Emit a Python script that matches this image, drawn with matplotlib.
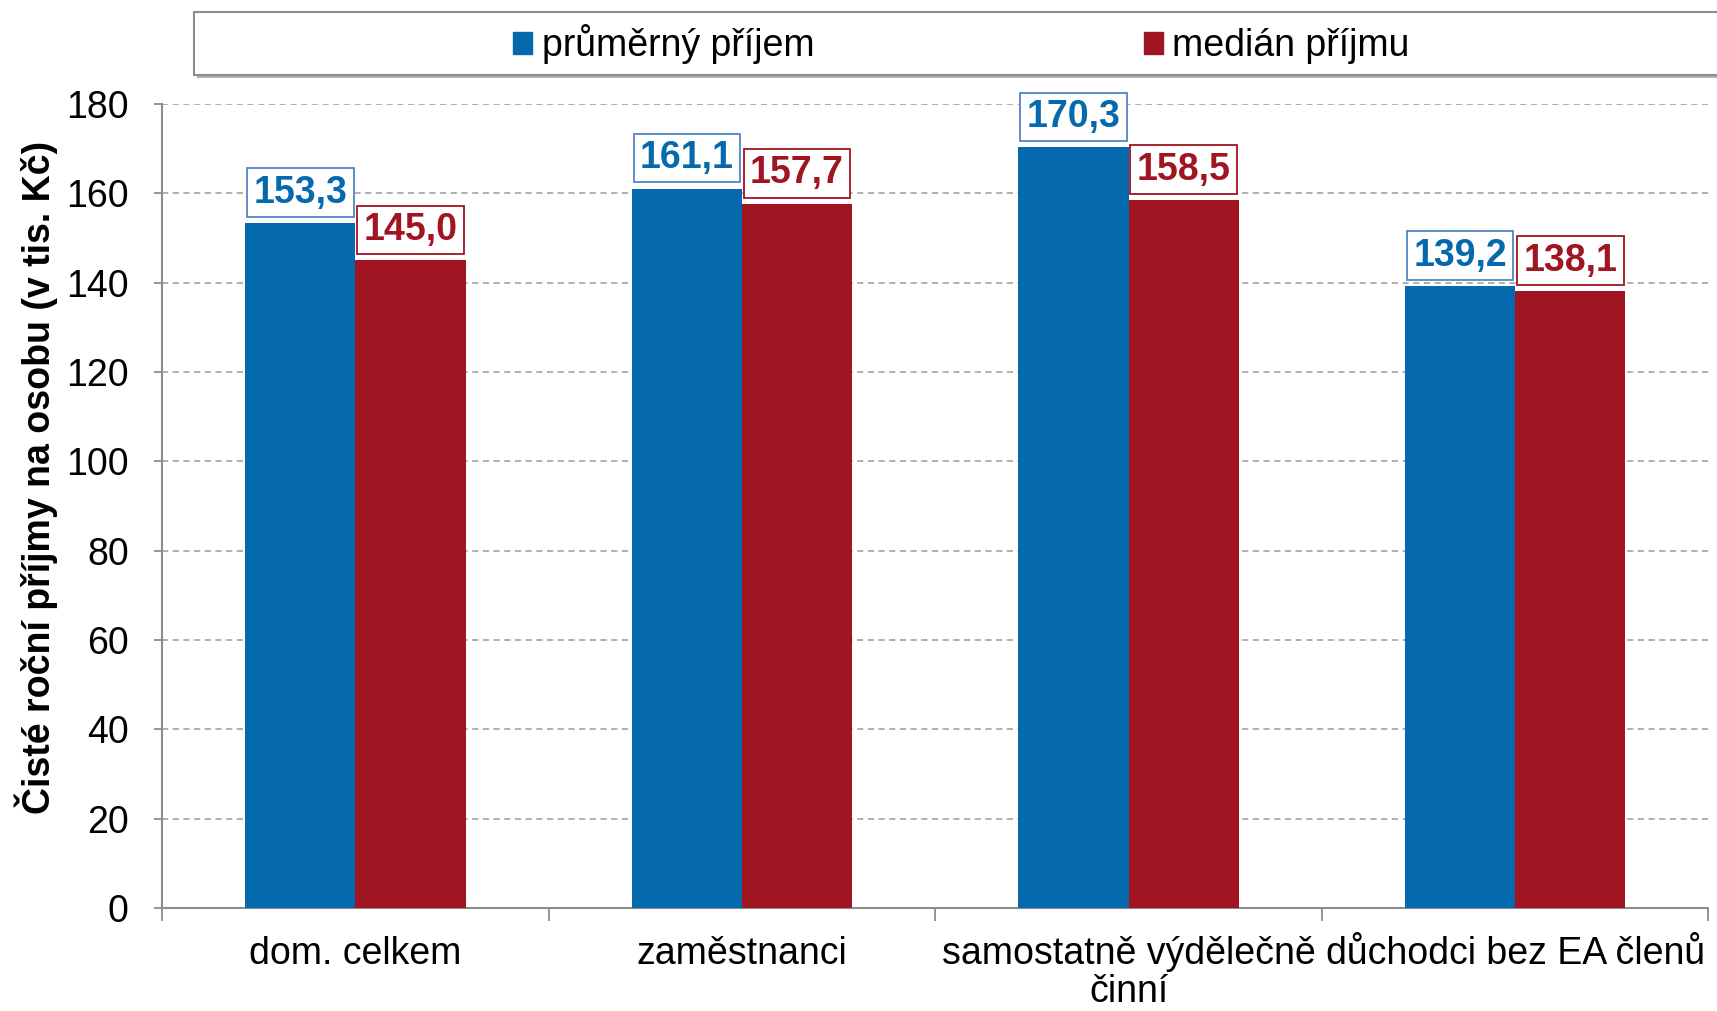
import matplotlib
matplotlib.use("Agg")
import matplotlib.pyplot as plt
from matplotlib.patches import Rectangle, Patch
import numpy as np

plt.rcParams["font.family"] = ["Liberation Sans", "DejaVu Sans"]

# data
categories = ["dom. celkem", "zaměstnanci", "samostatně výdělečně\nčinní",
              "důchodci bez EA členů"]
prumer = [153.3, 161.1, 170.3, 139.2]
median = [145.0, 157.7, 158.5, 138.1]
series_names = ["průměrný příjem", "medián příjmu"]

BLUE = "#0569ad"
RED = "#a11422"
BLUE_EDGE = "#4f86c6"
GRID = "#9a9a9a"
AXIS = "#8c8c8c"
FS = 27

fig = plt.figure(figsize=(17.17, 10.11), dpi=100)
ax = fig.add_axes([0.0944, 0.102, 0.9006, 0.795])

x = np.arange(len(categories))
w = 0.285
b1 = ax.bar(x - w / 2, prumer, w, color=BLUE, zorder=3)
b2 = ax.bar(x + w / 2, median, w, color=RED, zorder=3)


def fmt(v):
    return f"{v:.1f}".replace(".", ",")


for bars, vals, tc, ec in [(b1, prumer, BLUE, BLUE_EDGE), (b2, median, RED, RED)]:
    for rect, v in zip(bars, vals):
        ax.annotate(fmt(v), xy=(rect.get_x() + rect.get_width() / 2, v),
                    xytext=(0, 9), textcoords="offset points",
                    ha="center", va="bottom", fontsize=FS, fontweight="bold",
                    color=tc, zorder=5,
                    bbox=dict(boxstyle="square,pad=0.17", fc="white", ec=ec, lw=1.3))

ax.set_xlim(-0.5, len(categories) - 0.5)
ax.set_ylim(0, 180)
ax.set_yticks(np.arange(0, 181, 20))
ax.tick_params(axis="y", labelsize=FS, length=6, width=1.3, color=AXIS, pad=18)
ax.set_xticks(x)
ax.set_xticklabels(categories, fontsize=FS, linespacing=1.08)
ax.tick_params(axis="x", which="major", length=0, pad=20)
ax.set_xticks(np.arange(-0.5, len(categories), 1.0), minor=True)
ax.tick_params(axis="x", which="minor", length=9, width=1.3, color=AXIS)

ax.yaxis.grid(True, ls=(0, (4, 3)), color=GRID, lw=1.1, zorder=0)
ax.set_axisbelow(True)
for s in ["top", "right"]:
    ax.spines[s].set_visible(False)
for s in ["left", "bottom"]:
    ax.spines[s].set_color(AXIS)
    ax.spines[s].set_linewidth(1.5)

ax.set_ylabel("Čisté roční příjmy na osobu (v tis. Kč)", fontsize=FS,
              fontweight="bold")
ax.yaxis.set_label_coords(-0.067, 0.535)

# legend frame with a small shadow
fig.patches.append(Rectangle((0.1149, 0.923), 0.9, 0.062, transform=fig.transFigure,
                             fc="#b0b0b0", ec="none", zorder=0))
fig.patches.append(Rectangle((0.1129, 0.926), 0.9, 0.062, transform=fig.transFigure,
                             fc="white", ec=AXIS, lw=1.5, zorder=1))
handles = [Patch(color=BLUE), Patch(color=RED)]
fig.legend(handles, series_names, loc="center", bbox_to_anchor=(0.56, 0.956),
           ncol=2, frameon=False, fontsize=FS, handlelength=0.5,
           handleheight=0.5, handletextpad=0.25, columnspacing=8.8)

fig.savefig("out.png", dpi=100)
